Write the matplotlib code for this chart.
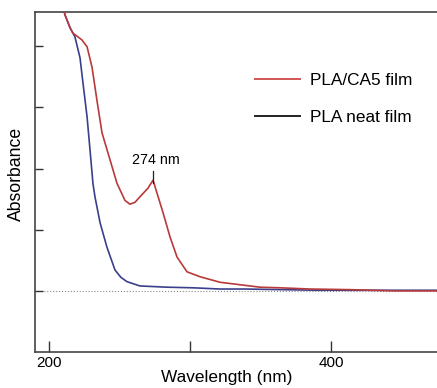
import numpy as np
import matplotlib.pyplot as plt
from matplotlib.lines import Line2D

plt.rcParams['font.family'] = ['Liberation Sans', 'DejaVu Sans']

# UV-vis spectra (absorbance, arbitrary units)
Wave_CA5 = [205, 211.3, 214.9, 217.0, 220.0, 223.4, 227.0, 230.5, 234.0, 237.6, 243.3, 248.2,
            253.9, 257.4, 261.0, 264.5, 270.2, 273.8, 276.6, 280.9, 285.8, 290.8, 297.9,
            307.1, 321.3, 335.5, 349.6, 363.8, 385.1, 413.5, 444.0, 480.0]
Abs_CA5 = [5.2, 4.50, 4.29, 4.20, 4.15, 4.09, 3.98, 3.65, 3.11, 2.58, 2.14, 1.76,
           1.48, 1.42, 1.45, 1.54, 1.68, 1.81, 1.60, 1.28, 0.89, 0.56, 0.32,
           0.24, 0.15, 0.11, 0.07, 0.06, 0.04, 0.03, 0.01, 0.01]

Wave_Neat = [205, 211.3, 214.9, 218.4, 222.0, 224.1, 227.0, 229.1, 231.2, 232.6, 236.2,
             241.1, 246.8, 251.0, 255.3, 264.5, 283.7, 302.1, 321.3, 339.0, 392.0, 480.0]
Abs_Neat = [5.2, 4.50, 4.29, 4.14, 3.80, 3.39, 2.84, 2.30, 1.75, 1.54, 1.12,
            0.72, 0.35, 0.23, 0.16, 0.09, 0.07, 0.06, 0.04, 0.04, 0.02, 0.02]

PeakWave = 274
PeakAbs = 1.81
PeakLabel = '274 nm'

RedCol = '#b83a3a'
BlueCol = '#3a3f8c'

Fig = plt.figure(figsize=(4.37, 3.88), dpi=100)
ax = Fig.add_axes([35/437, 36/388, 1 - 35/437, 340/388])

ax.plot([190, 480], [0, 0], color='#888888', lw=0.8, ls=':', zorder=1)
ax.plot(Wave_Neat, Abs_Neat, color=BlueCol, lw=1.2, zorder=2)
ax.plot(Wave_CA5, Abs_CA5, color=RedCol, lw=1.2, zorder=3)

# peak marker and label
ax.plot([PeakWave, PeakWave], [PeakAbs - 0.05, PeakAbs + 0.15], color='#222222', lw=0.9, zorder=4)
ax.text(PeakWave + 1.5, PeakAbs + 0.22, PeakLabel, ha='center', va='bottom', fontsize=10.3)

ax.set_xlim(190.07, 475.2)
ax.set_ylim(-0.984, 4.545)

ax.set_xticks([200, 300, 400])
ax.set_xticklabels(['200', '', '400'], fontsize=11)
ax.set_yticks([0, 1, 2, 3, 4])
ax.set_yticklabels([])
ax.tick_params(direction='in', length=6, width=1, color='#333333', pad=3)
ax.tick_params(axis='x', which='major', length=8)

for s in ['left', 'bottom', 'top']:
    ax.spines[s].set_color('#444444')
    ax.spines[s].set_linewidth(1.2)
ax.spines['right'].set_visible(False)

ax.set_ylabel('Absorbance', fontsize=12.7)
ax.yaxis.set_label_coords(-(35 - 25) / 402, (352 - 174) / 340)
Fig.text(227/437, 1 - 382/388, 'Wavelength (nm)', fontsize=12.4,
         ha='center', va='baseline')

Handles = [Line2D([], [], color='#cf5555', lw=1.4),
           Line2D([], [], color='#222222', lw=1.4)]
ax.legend(Handles, ['PLA/CA5 film', 'PLA neat film'], fontsize=12.4, frameon=False,
          handlelength=2.6, handletextpad=0.6, labelspacing=1.3,
          loc='upper left', bbox_to_anchor=(255/437, 1 - 73/388),
          bbox_transform=Fig.transFigure, borderaxespad=0, borderpad=0)

plt.savefig('out.png', dpi=100)
